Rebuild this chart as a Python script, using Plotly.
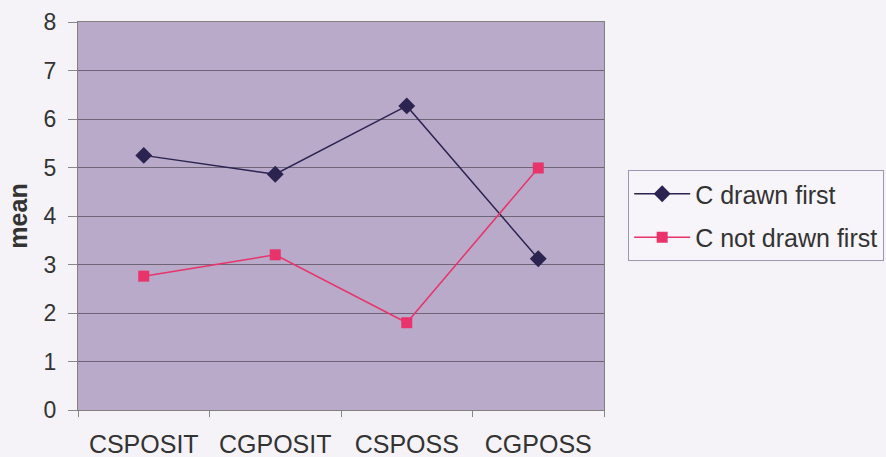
import plotly.graph_objects as go

categories = ["CSPOSIT", "CGPOSIT", "CSPOSS", "CGPOSS"]
drawn_first = [5.25, 4.86, 6.27, 3.12]
not_drawn_first = [2.76, 3.2, 1.8, 4.99]
y_ticks = [0, 1, 2, 3, 4, 5, 6, 7, 8]

fig = go.Figure()
fig.add_trace(go.Scatter(
    x=categories, y=drawn_first, name="C drawn first", mode="lines+markers",
    legendgroup="a",
    line=dict(color="#2b2350", width=1.5),
    marker=dict(symbol="diamond", size=13, color="#2b2350"),
))
fig.add_trace(go.Scatter(
    x=categories, y=not_drawn_first, name="C not drawn first", mode="lines+markers",
    legendgroup="b",
    line=dict(color="#e8336b", width=1.5),
    marker=dict(symbol="square", size=11, color="#e8336b"),
))

font_family = "Liberation Sans, Arial, sans-serif"
fig.update_layout(
    width=886, height=457,
    margin=dict(l=78, r=282, t=22, b=47, autoexpand=False),
    paper_bgcolor="#f5f3f8",
    plot_bgcolor="#b8aac8",
    font=dict(family=font_family, size=25, color="#3a3a3a"),
    showlegend=True,
    legend=dict(
        xref="container", yref="container",
        x=0.709, y=0.628, xanchor="left", yanchor="top",
        bgcolor="#f7f5fa", bordercolor="#9a98b0", borderwidth=1,
        font=dict(size=25, color="#333333"),
        tracegroupgap=8, itemwidth=56,
    ),
    xaxis=dict(
        type="category", tickson="boundaries", ticks="outside", ticklen=6,
        tickcolor="#888888", showgrid=False, showline=True, linecolor="#808080",
        linewidth=1, mirror=True, tickfont=dict(size=25, color="#333333"),
        range=[-0.5, 3.5], ticklabelstandoff=12, automargin=False,
    ),
    yaxis=dict(
        range=[0, 8], tickvals=y_ticks, ticks="outside", ticklen=9,
        tickcolor="#888888", showgrid=True, gridcolor="#6e6478", gridwidth=1,
        showline=True, linecolor="#808080", mirror=True, zeroline=False,
        tickfont=dict(size=23, color="#333333"), ticklabelstandoff=7,
        automargin=False,
        title=dict(text="<b>mean</b>", font=dict(size=25, color="#333333"), standoff=8),
    ),
)

fig.write_html(
    "out.html",
    config={"displayModeBar": False},
    post_script="document.body.style.margin='0';document.body.style.background='#f5f3f8';",
)
